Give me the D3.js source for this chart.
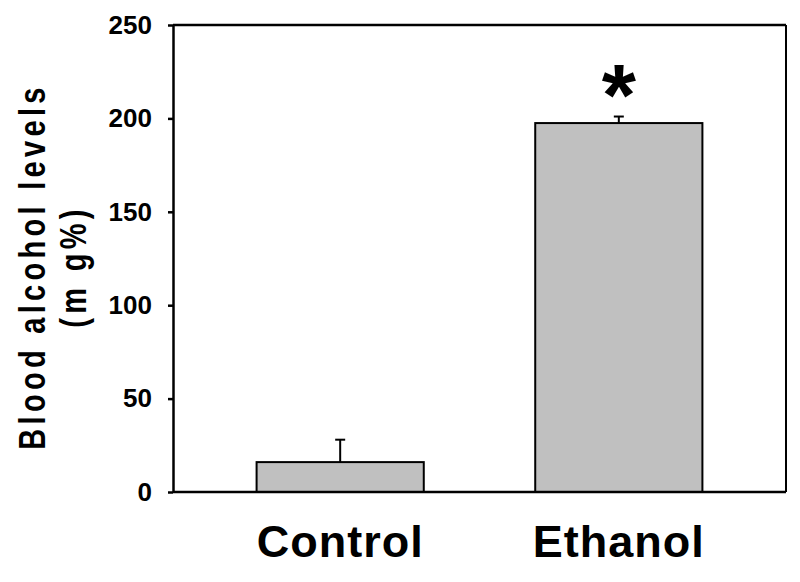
<!DOCTYPE html>
<html>
<head>
<meta charset="utf-8">
<script src="https://cdn.jsdelivr.net/npm/d3@7"></script>
<style>
  body { margin: 0; background: #fff; }
  svg { display: block; }
</style>
</head>
<body>
<div id="chart"></div>
<script>
// data
const groups = ["Control", "Ethanol"];
const means = [16, 197.5];
const errs = [12, 3.5];
const signif = ["", "*"];
const yTicks = [0, 50, 100, 150, 200, 250];

const W = 800, H = 582;
const margin = { top: 25, right: 14, bottom: 90, left: 173 };

const svg = d3.select("#chart").append("svg")
    .attr("width", W)
    .attr("height", H);

svg.append("rect").attr("width", W).attr("height", H).attr("fill", "#fff");

const x = d3.scaleBand()
    .domain(groups)
    .range([margin.left, W - margin.right])
    .paddingInner(0.4)
    .paddingOuter(0.3);

const y = d3.scaleLinear()
    .domain([0, 250])
    .range([H - margin.bottom, margin.top]);

const rows = groups.map((g, i) => ({ g: g, m: means[i], e: errs[i], s: signif[i] }));

// error bars (upper whisker only, drawn behind bars)
const eb = svg.append("g").attr("stroke", "#000").attr("stroke-width", 2);
eb.selectAll("line.stem")
  .data(rows).enter().append("line")
    .attr("class", "stem")
    .attr("x1", d => x(d.g) + x.bandwidth() / 2)
    .attr("x2", d => x(d.g) + x.bandwidth() / 2)
    .attr("y1", d => y(d.m))
    .attr("y2", d => y(d.m + d.e));
eb.selectAll("line.cap")
  .data(rows).enter().append("line")
    .attr("class", "cap")
    .attr("x1", d => x(d.g) + x.bandwidth() / 2 - 5)
    .attr("x2", d => x(d.g) + x.bandwidth() / 2 + 5)
    .attr("y1", d => y(d.m + d.e))
    .attr("y2", d => y(d.m + d.e));

// bars
svg.append("g").selectAll("rect")
  .data(rows).enter().append("rect")
    .attr("x", d => x(d.g))
    .attr("y", d => y(d.m))
    .attr("width", x.bandwidth())
    .attr("height", d => y(0) - y(d.m))
    .attr("fill", "#c0c0c0")
    .attr("stroke", "#000")
    .attr("stroke-width", 2);

// frame: top and right
svg.append("line")
    .attr("x1", margin.left).attr("x2", W - margin.right)
    .attr("y1", y(250)).attr("y2", y(250))
    .attr("stroke", "#000").attr("stroke-width", 2.5);
svg.append("line")
    .attr("x1", W - margin.right).attr("x2", W - margin.right)
    .attr("y1", y(250)).attr("y2", y(0))
    .attr("stroke", "#000").attr("stroke-width", 2);

// y axis
const yAxis = svg.append("g")
    .attr("transform", `translate(${margin.left},0)`)
    .call(d3.axisLeft(y).tickValues(yTicks).tickSize(5).tickSizeOuter(0).tickPadding(16));
yAxis.select(".domain").attr("stroke-width", 2.5);
yAxis.selectAll(".tick line").attr("stroke-width", 2.5);
yAxis.selectAll(".tick text")
    .attr("font-family", "'Liberation Sans', Arial, sans-serif")
    .attr("font-weight", "bold")
    .attr("font-size", 26)
    .attr("fill", "#000");

// x axis
const xAxis = svg.append("g")
    .attr("transform", `translate(0,${y(0)})`)
    .call(d3.axisBottom(x).tickSize(0).tickPadding(33));
xAxis.select(".domain").attr("stroke-width", 2.5).attr("d", `M${margin.left},0H${W - margin.right}`);
xAxis.selectAll(".tick text")
    .attr("font-family", "'Liberation Sans', Arial, sans-serif")
    .attr("font-weight", "bold")
    .attr("font-size", 45)
    .attr("letter-spacing", 1)
    .attr("fill", "#000");

// significance marks
svg.append("g").selectAll("text")
  .data(rows.filter(d => d.s)).enter().append("text")
    .attr("x", d => x(d.g) + x.bandwidth() / 2)
    .attr("y", d => y(d.m + d.e) + 8)
    .attr("text-anchor", "middle")
    .attr("font-family", "'Liberation Sans', Arial, sans-serif")
    .attr("font-weight", "bold")
    .attr("font-size", 88)
    .text(d => d.s);

// y title, two lines, stretched like the original
const titleLines = [
  { t: "Blood alcohol levels", bx: 45 },
  { t: "(m g%)", bx: 86 }
];
svg.append("g").selectAll("text")
  .data(titleLines).enter().append("text")
    .attr("transform", d => `translate(${d.bx},${(y(0) + y(250)) / 2 + 8}) rotate(-90) scale(1,1.3)`)
    .attr("text-anchor", "middle")
    .attr("font-family", "'Liberation Sans', Arial, sans-serif")
    .attr("font-weight", "bold")
    .attr("font-size", 29)
    .attr("letter-spacing", 4.3)
    .text(d => d.t);
</script>
</body>
</html>
